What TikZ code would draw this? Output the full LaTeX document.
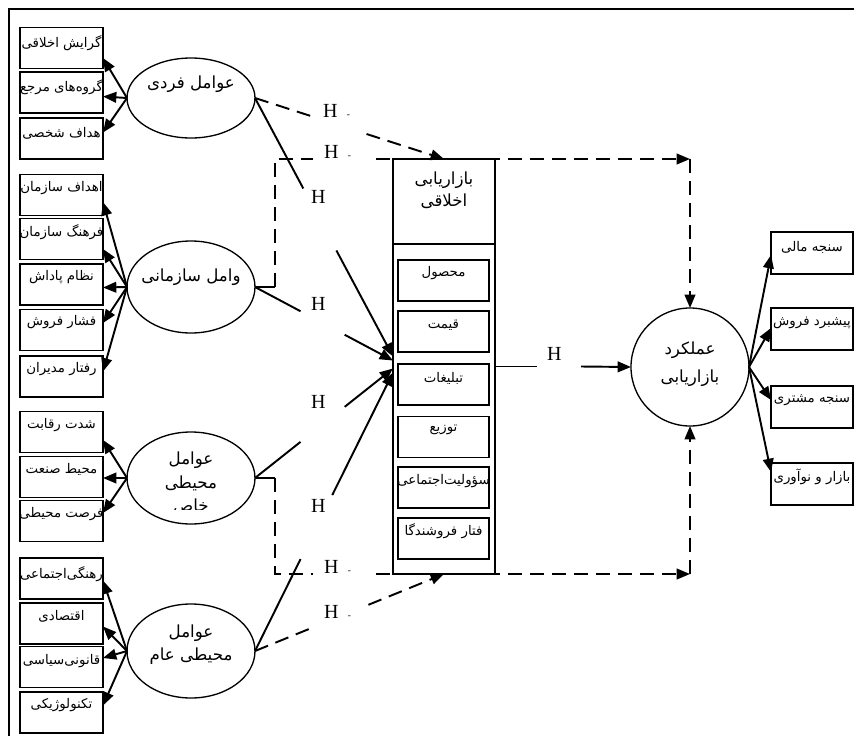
\documentclass[tikz,border=0pt]{standalone}
\usepackage{fontspec}
\usetikzlibrary{shapes.geometric,arrows.meta,calc}
\TeXXeTstate=1
\setmainfont{Liberation Serif}
\newfontfamily\persianfont[Script=Arabic]{DejaVu Sans}
\newcommand{\fa}[1]{{\persianfont\beginR #1\endR}}
\begin{document}
\begin{tikzpicture}[x=0.75pt,y=-0.75pt,
  every node/.style={inner sep=0pt, outer sep=0pt},
  lbox/.style={draw, line width=1.3pt, minimum width=62.25pt, minimum height=30.75pt},
  ibox/.style={draw, line width=1.3pt, minimum width=68.25pt, minimum height=30.75pt},
  rbox/.style={draw, line width=1.3pt, minimum width=61.5pt, minimum height=31.5pt},
  ell/.style={draw, ellipse, line width=1pt, minimum width=96pt, minimum height=69pt},
  btxt/.style={font=\fontsize{10}{11}\selectfont},
  etxt/.style={font=\fontsize{12.5}{14}\selectfont},
  hl/.style={font=\fontsize{15}{15}\selectfont, anchor=base west},
  con/.style={line width=1.45pt},
  arr/.style={con, -{Triangle[length=10pt,width=8pt]}},
  dsh/.style={con, dash pattern=on 10.5pt off 6pt},
  darr/.style={dsh, -{Triangle[length=10pt,width=8pt]}},
]
\useasboundingbox (0,0) rectangle (854,736);
% frame
\coordinate (f0) at (9,736);
\coordinate (f1) at (9,9);
\coordinate (f2) at (854,9);
\draw[line width=1.2pt] (f0) -- (f1) -- (f2);

% ---------- group 1 ----------
\node[lbox] (b11) at (61.5,48) {};
\node[lbox] (b12) at (61.5,92.5) {};
\node[lbox] (b13) at (61.5,138.5) {};
\node[btxt] (b11t) at (61.5,43) {\fa{گرایش اخلاقی}};
\node[btxt] (b12t) at (61.5,87) {\fa{گروه‌های مرجع}};
\node[btxt] (b13t) at (61.5,133) {\fa{هداف شخصی}};
\node[ell, minimum height=60pt] (e1) at (191,98) {};
\node[etxt] (e1t) at (191,84) {\fa{عوامل فردی}};
\draw[arr] (e1.west) -- ([shift={(0,10)}]b11.east);
\draw[arr] (e1.west) -- ([shift={(0,4)}]b12.east);
\draw[arr] (e1.west) -- ([shift={(0,-6)}]b13.east);

% ---------- group 2 ----------
\node[lbox] (b21) at (61.5,195) {};
\node[lbox] (b22) at (61.5,239) {};
\node[lbox] (b23) at (61.5,284.5) {};
\node[lbox] (b24) at (61.5,330) {};
\node[lbox] (b25) at (61.5,376.5) {};
\node[btxt] (b21t) at (61.5,188) {\fa{اهداف سازمان}};
\node[btxt] (b22t) at (61.5,232) {\fa{فرهنگ سازمان}};
\node[btxt] (b23t) at (61.5,277) {\fa{نظام پاداش}};
\node[btxt] (b24t) at (61.5,322) {\fa{فشار فروش}};
\node[btxt] (b25t) at (61.5,369) {\fa{رفتار مدیران}};
\node[ell] (e2) at (191,287) {};
\node[etxt] (e2t) at (191,277) {\fa{وامل سازمانی}};
\draw[arr] (e2.west) -- ([shift={(0,7)}]b21.east);
\draw[arr] (e2.west) -- ([shift={(0,10)}]b22.east);
\draw[arr] (e2.west) -- ([shift={(0,3)}]b23.east);
\draw[arr] (e2.west) -- ([shift={(0,-7)}]b24.east);
\draw[arr] (e2.west) -- ([shift={(0,-5)}]b25.east);

% ---------- group 3 ----------
\node[lbox] (b31) at (61.5,432) {};
\node[lbox] (b32) at (61.5,477) {};
\node[lbox] (b33) at (61.5,521) {};
\node[btxt] (b31t) at (61.5,425) {\fa{شدت رقابت}};
\node[btxt] (b32t) at (61.5,469) {\fa{محیط صنعت}};
\node[btxt] (b33t) at (61.5,514) {\fa{فرصت محیطی}};
\node[ell] (e3) at (191,478) {};
\node[etxt] (e3a) at (191,460) {\fa{عوامل}};
\node[etxt] (e3b) at (191,483) {\fa{محیطی}};
\begin{scope}
\clip (150,490) rectangle (230,509);
\node[etxt] (e3c) at (191,507) {\fa{خاص}};
\end{scope}
\draw[arr] (e3.west) -- ([shift={(0,8)}]b31.east);
\draw[arr] (e3.west) -- ([shift={(0,1)}]b32.east);
\draw[arr] (e3.west) -- ([shift={(0,-8)}]b33.east);

% ---------- group 4 ----------
\node[lbox] (b41) at (61.5,578.5) {};
\node[lbox] (b42) at (61.5,623.5) {};
\node[lbox] (b43) at (61.5,667) {};
\node[lbox] (b44) at (61.5,712.5) {};
\node[btxt] (b41t) at (61.5,574) {\fa{رهنگی‌اجتماعی}};
\node[btxt] (b42t) at (61.5,616) {\fa{اقتصادی}};
\node[btxt] (b43t) at (61.5,661) {\fa{قانونی‌سیاسی}};
\node[btxt] (b44t) at (61.5,705) {\fa{تکنولوژیکی}};
\node[ell, minimum height=70.5pt] (e4) at (191,651) {};
\node[etxt] (e4a) at (191,633) {\fa{عوامل}};
\node[etxt] (e4b) at (191,656) {\fa{محیطی عام}};
\draw[arr] (e4.west) -- ([shift={(0,2)}]b41.east);
\draw[arr] (e4.west) -- ([shift={(0,3)}]b42.east);
\draw[arr] (e4.west) -- ([shift={(0,-9)}]b43.east);
\draw[arr] (e4.west) -- ([shift={(0,-7)}]b44.east);

% ---------- central box ----------
\node[draw, line width=1.3pt, minimum width=76.5pt, minimum height=311.25pt] (mb) at (444,366.5) {};
\coordinate (dv) at (0,244);
\draw[line width=1.3pt] (mb.west |- dv) -- (mb.east |- dv);
\node[etxt] (mbt1) at (444,180) {\fa{بازاریابی}};
\node[etxt] (mbt2) at (444,201) {\fa{اخلاقی}};
\node[ibox] (i1) at (443.5,280.5) {};
\node[ibox] (i2) at (443.5,331.5) {};
\node[ibox] (i3) at (443.5,384.5) {};
\node[ibox] (i4) at (443.5,437) {};
\node[ibox] (i5) at (443.5,487.5) {};
\node[ibox] (i6) at (443.5,538.5) {};
\node[btxt] (i1t) at (443.5,273) {\fa{محصول}};
\node[btxt] (i2t) at (443.5,325) {\fa{قیمت}};
\node[btxt] (i3t) at (443.5,378) {\fa{تبلیغات}};
\node[btxt] (i4t) at (443.5,430) {\fa{توزیع}};
\node[btxt] (i5t) at (443.5,481) {\fa{سؤولیت‌اجتماعی}};
\node[btxt] (i6t) at (443.5,531) {\fa{فتار فروشندگا}};

% ---------- performance circle ----------
\node[draw, circle, line width=1pt, minimum size=88.5pt] (c) at (690,367) {};
\node[etxt] (ct1) at (690,350) {\fa{عملکرد}};
\node[etxt] (ct2) at (690,378) {\fa{بازاریابی}};

% right boxes
\node[rbox] (r1) at (812,253) {};
\node[rbox] (r2) at (812,329) {};
\node[rbox] (r3) at (812,407) {};
\node[rbox] (r4) at (812,484) {};
\node[btxt] (r1t) at (812,247) {\fa{سنجه مالی}};
\node[btxt] (r2t) at (812,323) {\fa{پیشبرد فروش}};
\node[btxt] (r3t) at (812,400) {\fa{سنجه مشتری}};
\node[btxt] (r4t) at (812,477) {\fa{بازار و نوآوری}};
\draw[arr] (c.east) -- ([shift={(0,2)}]r1.west);
\draw[arr] (c.east) -- ([shift={(0,-1)}]r2.west);
\draw[arr] (c.east) -- ([shift={(0,-7)}]r3.west);
\draw[arr] (c.east) -- ([shift={(0,-12)}]r4.west);

% ---------- solid paths into central box ----------
\coordinate (t1) at ([shift={(0,-10)}]mb.west);
\coordinate (t2) at ([shift={(0,-6)}]mb.west);
\coordinate (t3) at ([shift={(0,2)}]mb.west);
\coordinate (t4) at ([shift={(0,6)}]mb.west);
\draw[con] (e1.east) -- ($(e1.east)!0.35!(t1)$);
\draw[arr] ($(e1.east)!0.59!(t1)$) -- (t1);
\draw[con] (e2.east) -- ($(e2.east)!0.33!(t2)$);
\draw[arr] ($(e2.east)!0.65!(t2)$) -- (t2);
\draw[con] (e3.east) -- ($(e3.east)!0.33!(t3)$);
\draw[arr] ($(e3.east)!0.65!(t3)$) -- (t3);
\draw[con] (e4.east) -- ($(e4.east)!0.33!(t4)$);
\draw[arr] ($(e4.east)!0.56!(t4)$) -- (t4);

% dashed direct paths
\draw[dsh] (e1.east) -- ($(e1.east)!0.32!(mb.north)$);
\draw[darr] ($(e1.east)!0.59!(mb.north)$) -- (mb.north);
\draw[dsh] (e4.east) -- ($(e4.east)!0.32!(mb.south)$);
\draw[darr] ($(e4.east)!0.6!(mb.south)$) -- (mb.south);

% dashed loops to performance
\coordinate (ct) at (690,159);
\coordinate (cb) at (690,574);
\coordinate (s2) at (275,287);
\coordinate (s3) at (275,478);
\coordinate (g1) at (313,159);
\coordinate (g2) at (376,159);
\coordinate (g3) at (313,574);
\coordinate (g4) at (376,574);
\draw[con] (e2.east) -- (s2);
\draw[dsh] (s2) |- (g1);
\draw[darr] (g2) -- (ct);
\draw[darr] (ct) -- (c.north);
\draw[con] (e3.east) -- (s3);
\draw[dsh] (s3) |- (g3);
\draw[darr] (g4) -- (cb);
\draw[darr] (cb) -- (c.south);

% central box to performance
\coordinate (m1) at (537,366.5);
\coordinate (m2) at (581,366.5);
\draw[con] (mb.east) -- (m1);
\draw[arr] (m2) -- (c.west);

% H labels
\node[hl] (h1) at (323,117) {H\kern7pt{\fontsize{7}{7}\selectfont -}};
\node[hl] (h2) at (324,158) {H\kern7pt{\fontsize{7}{7}\selectfont -}};
\node[hl] (h3) at (311,203) {H};
\node[hl] (h4) at (311,310) {H};
\node[hl] (h5) at (311,408) {H};
\node[hl] (h6) at (311,512) {H};
\node[hl] (h7) at (324,573) {H\kern7pt{\fontsize{7}{7}\selectfont -}};
\node[hl] (h8) at (324,618) {H\kern7pt{\fontsize{7}{7}\selectfont -}};
\node[hl] (h9) at (547,360) {H};
\end{tikzpicture}
\end{document}
